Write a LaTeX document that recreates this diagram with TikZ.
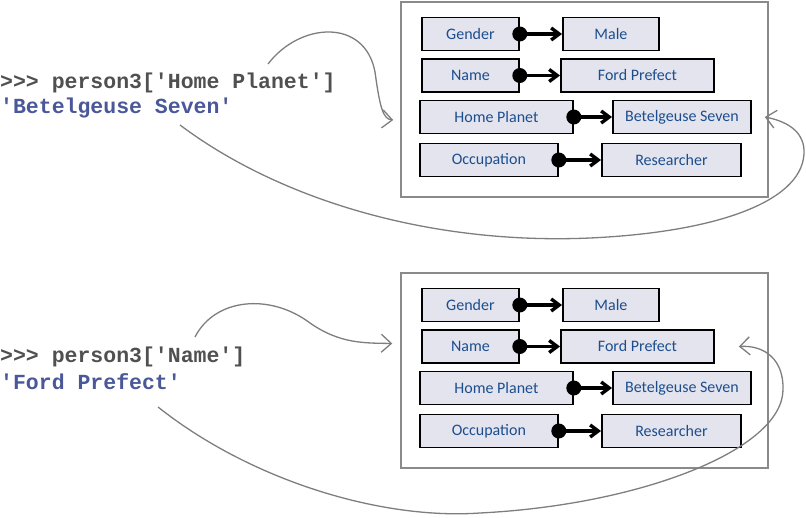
\documentclass[tikz,border=0pt]{standalone}
\usepackage{fontspec}
\usetikzlibrary{arrows.meta,calc}
\newfontfamily\handfont{Carlito}
\newfontfamily\codefont{Liberation Mono}
\definecolor{panelline}{HTML}{8A8A8A}
\definecolor{cellfill}{HTML}{E4E4EE}
\definecolor{celltext}{HTML}{1C4E8E}
\definecolor{prompt}{HTML}{505050}
\definecolor{result}{HTML}{4A5799}
\definecolor{curveline}{HTML}{7E7E7E}
\tikzset{
  panel/.style={draw=panelline, line width=1.5pt, inner sep=0pt},
  keycell/.style={draw, fill=cellfill, line width=1.8pt, minimum height=33pt,
                  inner sep=0pt, anchor=west, text=celltext, font=\handfont\fontsize{16}{16}\selectfont},
  keyarrow/.style={line width=3.4pt, -{Straight Barb[length=8pt,width=12pt]}},
  codeline/.style={anchor=west, inner sep=0pt, font=\codefont\bfseries\fontsize{21.5}{23}\selectfont},
  curvearrow/.style={draw=curveline, line width=1.3pt, -{Straight Barb[length=10pt,width=18pt]}},
}
\begin{document}
\begin{tikzpicture}[x=1pt, y=-1pt]
  \useasboundingbox (0,0) rectangle (806,518);
  % the two dictionaries
  \foreach \p/\dy in {a/0, b/271} {
    \node[panel, minimum width=367pt, minimum height=195pt] (\p panel) at (584.5,99.5+\dy) {};
    \foreach \r/\key/\kx/\kw/\val/\vx/\vw/\y in {1/Gender/421/97/Male/562/96/34,
        2/Name/421/97/Ford Prefect/560/153/75.5,
        3/Home Planet/419/153/Betelgeuse Seven/612/138/117,
        4/Occupation/419/138/Researcher/601/139/160} {
      \node[keycell, minimum width=\kw pt] (\p key\r) at (\kx,\y+\dy) {\key};
      \node[keycell, minimum width=\vw pt] (\p val\r) at (\vx,\y+\dy) {\val};
      \draw[keyarrow] (\p key\r.east) -- (\p val\r.west);
      \fill (\p key\r.east) circle[radius=7.5pt];
    }
  }
  % the lookups
  \node[codeline, text=prompt] (qa) at (0,83) {>>> person3['Home Planet']};
  \node[codeline, text=result] (ra) at (0,108) {'Betelgeuse Seven'};
  \node[codeline, text=prompt] (qb) at (0,357) {>>> person3['Name']};
  \node[codeline, text=result] (rb) at (0,382) {'Ford Prefect'};
  \coordinate (qa-out) at (268,64);
  \coordinate (ra-out) at (180,125);
  \coordinate (qb-out) at (195,337);
  \coordinate (rb-out) at (158,407);
  \coordinate (apanel-in) at ($(apanel.west)+(-7,20.5)$);
  \coordinate (bpanel-in) at ($(bpanel.west)+(-8,-27)$);
  \draw[curvearrow] (qa-out) .. controls (300,22) and (365,18) .. (375,72)
    .. controls (380,108) and (383,119) .. (apanel-in);
  \draw[curvearrow] (ra-out) .. controls (280,200) and (430,245) .. (590,238)
    .. controls (720,232) and (806,200) .. (804,150)
    .. controls (803,130) and (785,121) .. ($(aval3.east)+(13,0)$);
  \draw[curvearrow] (qb-out) .. controls (215,298) and (270,293) .. (310,323)
    .. controls (340,344) and (365,343) .. (bpanel-in);
  \draw[curvearrow] (rb-out) .. controls (250,480) and (380,520) .. (480,513)
    .. controls (640,505) and (782,450) .. (783,390)
    .. controls (784,360) and (765,345) .. ($(bval2.east)+(24,0)$);
\end{tikzpicture}
\end{document}
